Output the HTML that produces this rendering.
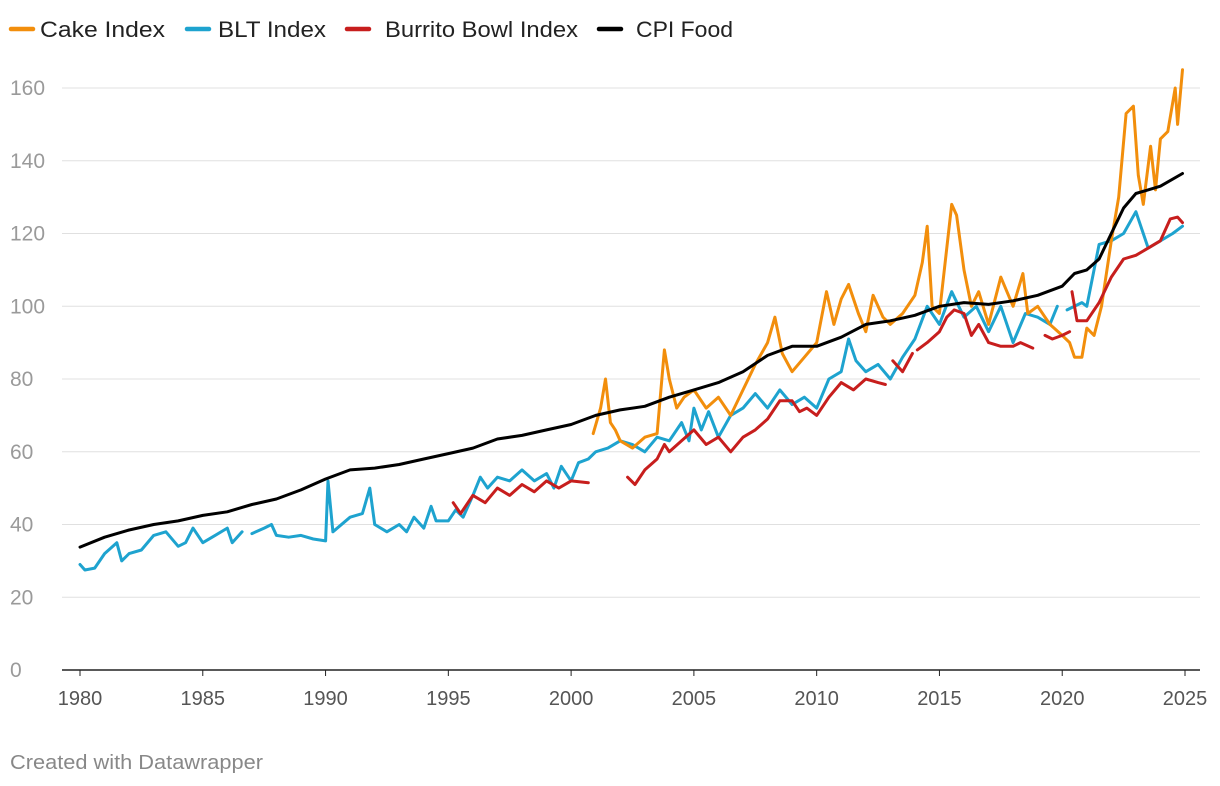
<!DOCTYPE html>
<html><head><meta charset="utf-8"><style>
body{margin:0;background:#fff;font-family:"Liberation Sans",sans-serif;}
#wrap{position:relative;width:1220px;height:786px;overflow:hidden}
</style></head><body>
<div id="wrap">
<svg id="chart" width="1220" height="786"></svg>
</div>
<script>
const yTicks=[0,20,40,60,80,100,120,140,160];
const xTicks=[1980,1985,1990,1995,2000,2005,2010,2015,2020,2025];
const seriesNames=["Cake Index","BLT Index","Burrito Bowl Index","CPI Food"];
const seriesColors=["#f28e0c","#1ea3cf","#c71e1d","#000000"];
// null = gap
const cakeX=[2000.9,2001.2,2001.4,2001.6,2001.8,2002,2002.5,2003,2003.5,2003.8,2004,2004.3,2004.6,2005,2005.5,2006,2006.5,2007,2007.5,2008,2008.3,2008.6,2009,2009.5,2010,2010.4,2010.7,2011,2011.3,2011.7,2012,2012.3,2012.7,2013,2013.5,2014,2014.3,2014.5,2014.7,2015,2015.5,2015.7,2016,2016.3,2016.6,2017,2017.5,2018,2018.4,2018.6,2019,2019.5,2020,2020.3,2020.5,2020.8,2021,2021.3,2021.6,2022,2022.3,2022.6,2022.9,2023.1,2023.3,2023.6,2023.8,2024,2024.3,2024.6,2024.7,2024.9];
const cakeY=[65,72,80,68,66,63,61,64,65,88,80,72,75,77,72,75,70,77,84,90,97,87,82,86,90,104,95,102,106,98,93,103,97,95,98,103,112,122,100,98,128,125,110,100,104,95,108,100,109,98,100,95,92,90,86,86,94,92,100,118,130,153,155,136,128,144,132,146,148,160,150,165];
const bltX=[1980,1980.2,1980.6,1981,1981.5,1981.7,1982,1982.5,1983,1983.5,1984,1984.3,1984.6,1985,1985.5,1986,1986.2,1986.6,1986.8,1987,1987.5,1987.8,1988,1988.5,1989,1989.5,1990,1990.1,1990.3,1991,1991.5,1991.8,1992,1992.5,1993,1993.3,1993.6,1994,1994.3,1994.5,1995,1995.3,1995.6,1996,1996.3,1996.6,1997,1997.5,1998,1998.5,1999,1999.3,1999.6,2000,2000.3,2000.7,2001,2001.5,2002,2002.5,2003,2003.5,2004,2004.5,2004.8,2005,2005.3,2005.6,2006,2006.5,2007,2007.5,2008,2008.5,2009,2009.5,2010,2010.5,2011,2011.3,2011.6,2012,2012.5,2013,2013.5,2014,2014.5,2015,2015.5,2016,2016.5,2017,2017.5,2018,2018.5,2019,2019.5,2019.8,2020,2020.2,2020.8,2021,2021.5,2022,2022.5,2023,2023.5,2024,2024.5,2024.9];
const bltY=[29,27.5,28,32,35,30,32,33,37,38,34,35,39,35,37,39,35,38,null,37.5,39,40,37,36.5,37,36,35.5,52,38,42,43,50,40,38,40,38,42,39,45,41,41,44,42,48,53,50,53,52,55,52,54,50,56,52,57,58,60,61,63,62,60,64,63,68,63,72,66,71,64,70,72,76,72,77,73,75,72,80,82,91,85,82,84,80,86,91,100,95,104,97,100,93,100,90,98,97,95,100,null,99,101,100,117,118,120,126,116,118,120,122];
const burX=[1995.2,1995.5,1996,1996.5,1997,1997.5,1998,1998.5,1999,1999.5,2000,2000.7,2001,2002.3,2002.6,2003,2003.5,2003.8,2004,2004.5,2005,2005.5,2006,2006.5,2007,2007.5,2008,2008.5,2009,2009.3,2009.6,2010,2010.5,2011,2011.5,2012,2012.5,2012.8,2013,2013.1,2013.5,2013.9,2014,2014.1,2014.5,2015,2015.3,2015.6,2016,2016.3,2016.6,2017,2017.5,2018,2018.3,2018.8,2019,2019.3,2019.6,2020,2020.3,2020.35,2020.4,2020.6,2021,2021.5,2022,2022.5,2023,2023.5,2024,2024.4,2024.7,2024.9];
const burY=[46,43,48,46,50,48,51,49,52,50,52,51.5,null,53,51,55,58,62,60,63,66,62,64,60,64,66,69,74,74,71,72,70,75,79,77,80,79,78.5,null,85,82,87,null,88,90,93,97,99,98,92,95,90,89,89,90,88.5,null,92,91,92,93,null,104,96,96,101,108,113,114,116,118,124,124.5,123];
const cpiX=[1980,1981,1982,1983,1984,1985,1986,1987,1988,1989,1990,1991,1992,1993,1994,1995,1996,1997,1998,1999,2000,2001,2002,2003,2004,2005,2006,2007,2008,2009,2010,2011,2012,2013,2014,2015,2016,2017,2018,2019,2020,2020.5,2021,2021.5,2022,2022.5,2023,2024,2024.9];
const cpiY=[33.8,36.5,38.5,40,41,42.5,43.5,45.5,47,49.5,52.5,55,55.5,56.5,58,59.5,61,63.5,64.5,66,67.5,70,71.5,72.5,75,77,79,82,86.5,89,89,91.5,95,96,97.5,100,101,100.5,101.5,103,105.5,109,110,113,120,127,131,133,136.5];
const allX=[cakeX,bltX,burX,cpiX], allY=[cakeY,bltY,burY,cpiY];

const NS="http://www.w3.org/2000/svg", svg=document.getElementById('chart');
const L=62,R=1200,x0=80,x1=1185,yB=670,yT=88;
const sx=v=>x0+(v-1980)*(x1-x0)/45, sy=v=>yB-v*(yB-yT)/160;
function mk(t,a,p){const e=document.createElementNS(NS,t);for(const k in a)e.setAttribute(k,a[k]);(p||svg).appendChild(e);return e;}
yTicks.forEach(t=>{
  const g=mk('line',{x1:L,x2:R,y1:sy(t),y2:sy(t),stroke:t===0?'#222':'#e0e0e0','stroke-width':t===0?1.5:1});
  
  
  const tx=mk('text',{x:10,y:sy(t)+7,'font-size':21,fill:'#9a9a9a'});tx.textContent=t;
  
  
});
xTicks.forEach(t=>{
  mk('line',{x1:sx(t),x2:sx(t),y1:yB,y2:yB+6,stroke:'#222'});
  const tx=mk('text',{x:sx(t),y:705,'font-size':20,fill:'#555','text-anchor':'middle'});tx.textContent=t;
  
  
});
[1,0,2,3].forEach(i=>{
  let d='',pen=false;
  allX[i].forEach((xv,j)=>{const v=allY[i][j];if(v===null){pen=false;return;}d+=(pen?'L':'M')+sx(xv).toFixed(1)+' '+sy(v).toFixed(1);pen=true;});
  const p=mk('path',{d:d,fill:'none',stroke:seriesColors[i],'stroke-width':3,'stroke-linejoin':'round','stroke-linecap':'round'});
  
  
});
const legX=[10,186,346,598], legW=[125,108,193,97];
seriesNames.forEach((n,i)=>{
  const lx=legX[i];
  const g=mk('g',{});
  
  
  mk('line',{x1:lx+1,x2:lx+23,y1:29,y2:29,stroke:seriesColors[i],'stroke-width':4.5,'stroke-linecap':'round'},g);
  const t=mk('text',{x:lx+(i===2?39:i===3?38:i===1?32:30),y:37,'font-size':22,fill:'#222',textLength:legW[i],lengthAdjust:'spacingAndGlyphs'},g);t.textContent=n;
});
const c=mk('text',{x:10,y:769,'font-size':20,fill:'#888',textLength:253,lengthAdjust:'spacingAndGlyphs'});c.textContent='Created with Datawrapper';


</script>
</body></html>
